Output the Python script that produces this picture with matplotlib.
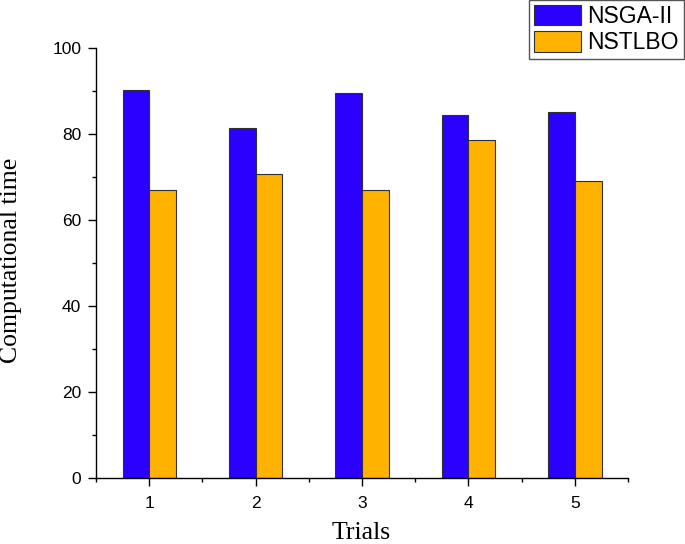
import matplotlib
matplotlib.use("Agg")
import matplotlib.pyplot as plt
import numpy as np
from matplotlib.ticker import MultipleLocator

trials = [1, 2, 3, 4, 5]
nsga2 = [90.2, 81.3, 89.5, 84.5, 85.0]
nstlbo = [66.9, 70.7, 66.9, 78.7, 69.1]
series_names = ["NSGA-II", "NSTLBO"]

fig = plt.figure(figsize=(6.85, 5.44), dpi=100)
ax = fig.add_axes([0.140, 0.121, 0.777, 0.791])

x = np.array(trials, dtype=float)
w = 0.25
ax.bar(x - w / 2, nsga2, width=w, color="#2B00FF", edgecolor="#303030", linewidth=0.8, label=series_names[0])
ax.bar(x + w / 2, nstlbo, width=w, color="#FFB300", edgecolor="#303030", linewidth=0.8, label=series_names[1])

ax.set_xlim(0.5, 5.5)
ax.set_ylim(0, 100)
ax.set_xticks(trials)
ax.set_xticklabels([str(t) for t in trials])
ax.xaxis.set_minor_locator(MultipleLocator(0.5))
ax.yaxis.set_major_locator(MultipleLocator(20))
ax.yaxis.set_minor_locator(MultipleLocator(10))
ax.spines["top"].set_visible(False)
ax.spines["right"].set_visible(False)
for s in ("left", "bottom"):
    ax.spines[s].set_linewidth(1.0)
ax.tick_params(axis="both", which="major", direction="out", length=5.5, width=1.0,
               labelsize=12.5, pad=5)
ax.tick_params(axis="x", which="major", pad=7)
ax.tick_params(axis="both", which="minor", direction="out", length=3, width=1.0)
for lab in ax.get_xticklabels() + ax.get_yticklabels():
    lab.set_family("Liberation Sans")

fig.text(0.527, 0.020, "Trials", family="Liberation Serif", fontsize=18.5,
         ha="center", va="center")
fig.text(0.016, 0.522, "Computational time", family="Liberation Serif", fontsize=18.5,
         ha="center", va="center", rotation=90)

leg = fig.legend(loc="upper right", bbox_to_anchor=(0.998, 1.0),
                 prop={"family": "Liberation Sans", "size": 16.5},
                 handlelength=2.05, handleheight=1.0, labelspacing=0.15,
                 borderpad=0.2, handletextpad=0.3, borderaxespad=0.0,
                 fancybox=False, framealpha=1.0)
leg.get_frame().set_edgecolor("#555555")
leg.get_frame().set_linewidth(1.0)

fig.savefig("out.png", dpi=100)
